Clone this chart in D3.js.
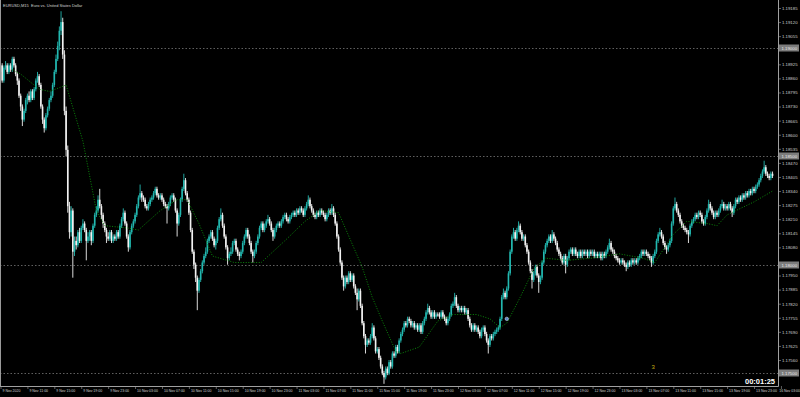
<!DOCTYPE html>
<html>
<head>
<meta charset="utf-8">
<script src="https://cdn.jsdelivr.net/npm/d3@7"></script>
<style>
  html, body { margin: 0; padding: 0; background: #000; overflow: hidden; }
  svg { display: block; }
  text { font-family: "Liberation Sans", Arial, sans-serif; }
</style>
</head>
<body>
<div id="chart"></div>
<script>
// EURUSD M15 candles, 9 Nov 07:00 -> 16 Nov early
var opens = [
1.1889,1.1892,1.1885,1.1891,1.1892,1.1889,1.1892,1.1890,1.1895,1.1892,1.1888,1.1885,1.1878,1.1873,1.1867,1.1871,
1.1876,1.1878,1.1876,1.1880,1.1877,1.1881,1.1885,1.1887,1.1883,1.1873,1.1867,1.1863,1.1869,1.1872,1.1876,1.1878,
1.1883,1.1889,1.1895,1.1901,1.1908,1.1912,1.1897,1.1871,1.1853,1.1827,1.1815,1.1825,1.1806,1.1811,1.1809,1.1815,
1.1811,1.1817,1.1819,1.1816,1.1811,1.1813,1.1815,1.1811,1.1818,1.1823,1.1825,1.1830,1.1827,1.1823,1.1819,1.1816,
1.1813,1.1812,1.1815,1.1811,1.1813,1.1812,1.1815,1.1813,1.1818,1.1821,1.1824,1.1819,1.1813,1.1808,1.1815,1.1818,
1.1820,1.1823,1.1827,1.1831,1.1833,1.1831,1.1830,1.1827,1.1826,1.1828,1.1830,1.1831,1.1833,1.1835,1.1832,1.1831,
1.1832,1.1830,1.1828,1.1827,1.1826,1.1828,1.1831,1.1832,1.1830,1.1825,1.1819,1.1823,1.1830,1.1835,1.1839,1.1833,
1.1830,1.1824,1.1816,1.1806,1.1800,1.1794,1.1788,1.1793,1.1797,1.1801,1.1804,1.1806,1.1811,1.1813,1.1815,1.1812,
1.1809,1.1811,1.1817,1.1821,1.1823,1.1818,1.1813,1.1808,1.1803,1.1805,1.1806,1.1810,1.1811,1.1807,1.1805,1.1804,
1.1806,1.1810,1.1813,1.1816,1.1813,1.1810,1.1806,1.1804,1.1806,1.1810,1.1813,1.1817,1.1819,1.1816,1.1818,1.1820,
1.1821,1.1819,1.1816,1.1813,1.1816,1.1818,1.1819,1.1818,1.1820,1.1822,1.1823,1.1821,1.1820,1.1822,1.1823,1.1824,
1.1823,1.1825,1.1824,1.1826,1.1825,1.1823,1.1826,1.1828,1.1830,1.1827,1.1825,1.1823,1.1822,1.1824,1.1823,1.1825,
1.1824,1.1823,1.1821,1.1823,1.1825,1.1824,1.1826,1.1823,1.1819,1.1813,1.1807,1.1801,1.1794,1.1790,1.1794,1.1792,
1.1796,1.1793,1.1795,1.1790,1.1787,1.1784,1.1788,1.1781,1.1773,1.1767,1.1763,1.1765,1.1764,1.1767,1.1771,1.1766,
1.1760,1.1761,1.1757,1.1753,1.1750,1.1748,1.1752,1.1750,1.1755,1.1753,1.1759,1.1758,1.1762,1.1760,1.1765,1.1768,
1.1770,1.1773,1.1772,1.1775,1.1774,1.1772,1.1773,1.1771,1.1772,1.1770,1.1772,1.1769,1.1773,1.1775,1.1778,1.1780,
1.1778,1.1776,1.1778,1.1776,1.1777,1.1777,1.1776,1.1778,1.1776,1.1775,1.1773,1.1775,1.1777,1.1781,1.1782,1.1785,
1.1781,1.1779,1.1780,1.1779,1.1780,1.1778,1.1779,1.1775,1.1772,1.1770,1.1772,1.1770,1.1771,1.1769,1.1767,1.1770,
1.1771,1.1768,1.1765,1.1763,1.1767,1.1766,1.1768,1.1769,1.1770,1.1771,1.1775,1.1785,1.1787,1.1785,1.1789,1.1796,
1.1806,1.1813,1.1815,1.1812,1.1816,1.1818,1.1815,1.1812,1.1813,1.1809,1.1806,1.1801,1.1797,1.1793,1.1796,1.1799,
1.1795,1.1792,1.1794,1.1801,1.1806,1.1809,1.1811,1.1813,1.1811,1.1814,1.1812,1.1810,1.1807,1.1805,1.1803,1.1801,
1.1804,1.1800,1.1803,1.1806,1.1807,1.1805,1.1807,1.1805,1.1804,1.1806,1.1804,1.1806,1.1805,1.1806,1.1804,1.1806,
1.1805,1.1806,1.1804,1.1805,1.1804,1.1805,1.1803,1.1805,1.1804,1.1806,1.1808,1.1810,1.1807,1.1806,1.1804,1.1803,
1.1802,1.1801,1.1802,1.1801,1.1800,1.1799,1.1801,1.1800,1.1802,1.1801,1.1802,1.1801,1.1803,1.1804,1.1806,1.1805,
1.1806,1.1805,1.1804,1.1803,1.1801,1.1804,1.1806,1.1811,1.1814,1.1815,1.1813,1.1810,1.1808,1.1807,1.1809,1.1811,
1.1819,1.1826,1.1828,1.1825,1.1823,1.1820,1.1818,1.1817,1.1816,1.1815,1.1814,1.1818,1.1820,1.1821,1.1823,1.1822,
1.1824,1.1823,1.1820,1.1819,1.1822,1.1825,1.1828,1.1826,1.1824,1.1822,1.1824,1.1823,1.1825,1.1827,1.1828,1.1826,
1.1827,1.1826,1.1828,1.1826,1.1824,1.1827,1.1830,1.1829,1.1831,1.1830,1.1832,1.1831,1.1833,1.1832,1.1834,1.1833,
1.1835,1.1834,1.1836,1.1837,1.1839,1.1841,1.1843,1.1845,1.1842,1.1841,1.1840,1.1842];

var highs = [
1.1893,1.1893,1.1892,1.1894,1.1893,1.1893,1.1893,1.1896,1.1896,1.1893,1.1889,1.1886,1.1879,1.1874,1.1872,1.1877,
1.1879,1.1880,1.1881,1.1881,1.1882,1.1886,1.1889,1.1888,1.1884,1.1874,1.1868,1.1870,1.1873,1.1877,1.1880,1.1884,
1.1890,1.1897,1.1903,1.1910,1.1917,1.1914,1.1899,1.1873,1.1855,1.1829,1.1827,1.1826,1.1813,1.1813,1.1816,1.1817,
1.1818,1.1821,1.1820,1.1817,1.1815,1.1816,1.1816,1.1819,1.1824,1.1827,1.1832,1.1835,1.1828,1.1824,1.1820,1.1817,
1.1815,1.1816,1.1816,1.1814,1.1814,1.1816,1.1816,1.1819,1.1822,1.1826,1.1825,1.1820,1.1814,1.1816,1.1819,1.1821,
1.1824,1.1828,1.1832,1.1837,1.1834,1.1832,1.1831,1.1828,1.1829,1.1831,1.1832,1.1834,1.1836,1.1836,1.1833,1.1833,
1.1833,1.1831,1.1829,1.1828,1.1829,1.1832,1.1833,1.1833,1.1831,1.1826,1.1824,1.1831,1.1836,1.1842,1.1840,1.1834,
1.1831,1.1825,1.1817,1.1807,1.1801,1.1795,1.1794,1.1798,1.1802,1.1805,1.1808,1.1812,1.1814,1.1816,1.1816,1.1813,
1.1812,1.1818,1.1822,1.1826,1.1824,1.1819,1.1814,1.1809,1.1806,1.1808,1.1811,1.1812,1.1812,1.1808,1.1806,1.1807,
1.1811,1.1814,1.1817,1.1817,1.1814,1.1811,1.1807,1.1807,1.1811,1.1814,1.1818,1.1820,1.1820,1.1819,1.1821,1.1823,
1.1822,1.1820,1.1817,1.1817,1.1819,1.1820,1.1820,1.1821,1.1823,1.1824,1.1824,1.1822,1.1823,1.1824,1.1825,1.1825,
1.1826,1.1826,1.1827,1.1827,1.1826,1.1827,1.1829,1.1832,1.1831,1.1828,1.1826,1.1824,1.1825,1.1825,1.1826,1.1826,
1.1825,1.1824,1.1824,1.1826,1.1826,1.1828,1.1827,1.1824,1.1820,1.1814,1.1808,1.1802,1.1795,1.1795,1.1795,1.1797,
1.1797,1.1796,1.1796,1.1791,1.1789,1.1789,1.1789,1.1782,1.1774,1.1768,1.1766,1.1766,1.1768,1.1773,1.1772,1.1767,
1.1762,1.1762,1.1758,1.1754,1.1751,1.1753,1.1753,1.1756,1.1756,1.1760,1.1760,1.1763,1.1763,1.1766,1.1769,1.1771,
1.1774,1.1774,1.1776,1.1776,1.1775,1.1774,1.1774,1.1773,1.1773,1.1773,1.1773,1.1774,1.1776,1.1779,1.1782,1.1781,
1.1779,1.1779,1.1779,1.1778,1.1778,1.1778,1.1779,1.1779,1.1777,1.1776,1.1776,1.1778,1.1782,1.1783,1.1787,1.1786,
1.1782,1.1781,1.1781,1.1781,1.1781,1.1780,1.1780,1.1776,1.1773,1.1773,1.1773,1.1772,1.1772,1.1770,1.1771,1.1772,
1.1772,1.1769,1.1766,1.1768,1.1768,1.1769,1.1770,1.1771,1.1772,1.1776,1.1786,1.1789,1.1788,1.1790,1.1797,1.1807,
1.1814,1.1817,1.1816,1.1817,1.1820,1.1819,1.1816,1.1814,1.1814,1.1810,1.1807,1.1802,1.1798,1.1797,1.1800,1.1800,
1.1796,1.1795,1.1802,1.1807,1.1810,1.1812,1.1814,1.1814,1.1816,1.1815,1.1813,1.1811,1.1808,1.1806,1.1804,1.1805,
1.1805,1.1804,1.1807,1.1808,1.1808,1.1808,1.1808,1.1806,1.1807,1.1807,1.1807,1.1807,1.1807,1.1807,1.1807,1.1807,
1.1807,1.1807,1.1806,1.1806,1.1806,1.1806,1.1806,1.1806,1.1807,1.1809,1.1812,1.1811,1.1808,1.1807,1.1805,1.1804,
1.1803,1.1803,1.1803,1.1802,1.1801,1.1802,1.1802,1.1803,1.1803,1.1803,1.1803,1.1804,1.1805,1.1807,1.1807,1.1807,
1.1807,1.1806,1.1805,1.1804,1.1805,1.1807,1.1812,1.1815,1.1817,1.1816,1.1814,1.1811,1.1809,1.1810,1.1812,1.1820,
1.1827,1.1831,1.1829,1.1826,1.1824,1.1821,1.1819,1.1818,1.1817,1.1816,1.1819,1.1821,1.1822,1.1824,1.1824,1.1825,
1.1825,1.1824,1.1821,1.1823,1.1826,1.1830,1.1829,1.1827,1.1825,1.1825,1.1825,1.1826,1.1828,1.1830,1.1829,1.1828,
1.1828,1.1829,1.1829,1.1827,1.1828,1.1831,1.1831,1.1832,1.1832,1.1833,1.1833,1.1834,1.1834,1.1835,1.1835,1.1836,
1.1836,1.1837,1.1838,1.1840,1.1842,1.1844,1.1848,1.1846,1.1843,1.1842,1.1843,1.1843];

var lows = [
1.1888,1.1884,1.1884,1.1890,1.1888,1.1888,1.1889,1.1889,1.1891,1.1887,1.1883,1.1877,1.1871,1.1864,1.1866,1.1870,
1.1874,1.1875,1.1875,1.1876,1.1876,1.1880,1.1884,1.1882,1.1872,1.1865,1.1861,1.1862,1.1868,1.1871,1.1875,1.1877,
1.1882,1.1888,1.1894,1.1899,1.1906,1.1895,1.1869,1.1850,1.1824,1.1812,1.1813,1.1794,1.1804,1.1807,1.1808,1.1810,
1.1810,1.1816,1.1815,1.1802,1.1810,1.1811,1.1809,1.1810,1.1817,1.1822,1.1824,1.1826,1.1821,1.1817,1.1815,1.1810,
1.1811,1.1811,1.1810,1.1810,1.1811,1.1811,1.1812,1.1812,1.1817,1.1820,1.1818,1.1812,1.1806,1.1807,1.1814,1.1817,
1.1819,1.1822,1.1826,1.1830,1.1829,1.1829,1.1826,1.1825,1.1825,1.1827,1.1829,1.1830,1.1832,1.1831,1.1830,1.1830,
1.1829,1.1827,1.1826,1.1819,1.1825,1.1827,1.1830,1.1829,1.1824,1.1813,1.1818,1.1822,1.1829,1.1834,1.1832,1.1829,
1.1823,1.1815,1.1805,1.1798,1.1792,1.1779,1.1787,1.1792,1.1796,1.1800,1.1803,1.1805,1.1810,1.1812,1.1811,1.1808,
1.1807,1.1810,1.1816,1.1820,1.1817,1.1812,1.1807,1.1800,1.1802,1.1804,1.1805,1.1809,1.1806,1.1804,1.1802,1.1803,
1.1805,1.1809,1.1812,1.1812,1.1809,1.1805,1.1801,1.1803,1.1805,1.1809,1.1812,1.1816,1.1815,1.1815,1.1817,1.1819,
1.1818,1.1815,1.1811,1.1812,1.1815,1.1817,1.1817,1.1817,1.1819,1.1821,1.1820,1.1819,1.1819,1.1821,1.1822,1.1822,
1.1822,1.1823,1.1823,1.1824,1.1822,1.1822,1.1825,1.1827,1.1826,1.1824,1.1822,1.1821,1.1821,1.1822,1.1822,1.1823,
1.1822,1.1820,1.1820,1.1822,1.1823,1.1823,1.1822,1.1818,1.1812,1.1806,1.1800,1.1793,1.1788,1.1789,1.1791,1.1791,
1.1792,1.1792,1.1789,1.1786,1.1779,1.1783,1.1780,1.1772,1.1766,1.1759,1.1762,1.1763,1.1763,1.1766,1.1765,1.1759,
1.1759,1.1756,1.1752,1.1749,1.1745,1.1747,1.1749,1.1749,1.1752,1.1752,1.1757,1.1757,1.1759,1.1759,1.1764,1.1767,
1.1769,1.1771,1.1771,1.1773,1.1771,1.1771,1.1770,1.1770,1.1769,1.1769,1.1768,1.1768,1.1772,1.1774,1.1777,1.1777,
1.1775,1.1775,1.1775,1.1775,1.1776,1.1775,1.1775,1.1775,1.1774,1.1772,1.1772,1.1774,1.1776,1.1780,1.1781,1.1780,
1.1778,1.1778,1.1778,1.1778,1.1777,1.1777,1.1774,1.1771,1.1769,1.1769,1.1769,1.1769,1.1768,1.1766,1.1766,1.1769,
1.1767,1.1764,1.1759,1.1762,1.1765,1.1765,1.1767,1.1768,1.1769,1.1770,1.1774,1.1784,1.1784,1.1784,1.1788,1.1795,
1.1805,1.1812,1.1811,1.1811,1.1815,1.1814,1.1811,1.1811,1.1808,1.1805,1.1800,1.1796,1.1789,1.1792,1.1795,1.1794,
1.1787,1.1791,1.1793,1.1800,1.1805,1.1808,1.1810,1.1810,1.1810,1.1811,1.1809,1.1806,1.1804,1.1802,1.1800,1.1800,
1.1796,1.1799,1.1802,1.1805,1.1804,1.1804,1.1804,1.1803,1.1803,1.1803,1.1803,1.1804,1.1804,1.1803,1.1803,1.1804,
1.1804,1.1803,1.1803,1.1803,1.1803,1.1802,1.1802,1.1803,1.1803,1.1805,1.1807,1.1806,1.1805,1.1803,1.1802,1.1801,
1.1800,1.1800,1.1800,1.1799,1.1797,1.1798,1.1799,1.1799,1.1800,1.1800,1.1800,1.1800,1.1802,1.1803,1.1804,1.1804,
1.1804,1.1803,1.1802,1.1799,1.1800,1.1803,1.1805,1.1810,1.1813,1.1812,1.1809,1.1807,1.1805,1.1806,1.1808,1.1810,
1.1818,1.1825,1.1824,1.1822,1.1819,1.1817,1.1816,1.1815,1.1814,1.1810,1.1813,1.1817,1.1819,1.1820,1.1821,1.1821,
1.1822,1.1819,1.1818,1.1818,1.1821,1.1824,1.1825,1.1823,1.1821,1.1821,1.1822,1.1822,1.1824,1.1826,1.1825,1.1825,
1.1825,1.1825,1.1825,1.1822,1.1823,1.1826,1.1828,1.1828,1.1829,1.1829,1.1830,1.1830,1.1831,1.1831,1.1832,1.1832,
1.1833,1.1833,1.1835,1.1836,1.1838,1.1840,1.1842,1.1841,1.1840,1.1839,1.1839,1.1840];

var closes = [
1.1892,1.1885,1.1891,1.1892,1.1889,1.1892,1.1890,1.1895,1.1892,1.1888,1.1885,1.1878,1.1873,1.1867,1.1871,1.1876,
1.1878,1.1876,1.1880,1.1877,1.1881,1.1885,1.1887,1.1883,1.1873,1.1867,1.1863,1.1869,1.1872,1.1876,1.1878,1.1883,
1.1889,1.1895,1.1901,1.1908,1.1912,1.1897,1.1871,1.1853,1.1827,1.1815,1.1825,1.1806,1.1811,1.1809,1.1815,1.1811,
1.1817,1.1819,1.1816,1.1811,1.1813,1.1815,1.1811,1.1818,1.1823,1.1825,1.1830,1.1827,1.1823,1.1819,1.1816,1.1813,
1.1812,1.1815,1.1811,1.1813,1.1812,1.1815,1.1813,1.1818,1.1821,1.1824,1.1819,1.1813,1.1808,1.1815,1.1818,1.1820,
1.1823,1.1827,1.1831,1.1833,1.1831,1.1830,1.1827,1.1826,1.1828,1.1830,1.1831,1.1833,1.1835,1.1832,1.1831,1.1832,
1.1830,1.1828,1.1827,1.1826,1.1828,1.1831,1.1832,1.1830,1.1825,1.1819,1.1823,1.1830,1.1835,1.1839,1.1833,1.1830,
1.1824,1.1816,1.1806,1.1800,1.1794,1.1788,1.1793,1.1797,1.1801,1.1804,1.1806,1.1811,1.1813,1.1815,1.1812,1.1809,
1.1811,1.1817,1.1821,1.1823,1.1818,1.1813,1.1808,1.1803,1.1805,1.1806,1.1810,1.1811,1.1807,1.1805,1.1804,1.1806,
1.1810,1.1813,1.1816,1.1813,1.1810,1.1806,1.1804,1.1806,1.1810,1.1813,1.1817,1.1819,1.1816,1.1818,1.1820,1.1821,
1.1819,1.1816,1.1813,1.1816,1.1818,1.1819,1.1818,1.1820,1.1822,1.1823,1.1821,1.1820,1.1822,1.1823,1.1824,1.1823,
1.1825,1.1824,1.1826,1.1825,1.1823,1.1826,1.1828,1.1830,1.1827,1.1825,1.1823,1.1822,1.1824,1.1823,1.1825,1.1824,
1.1823,1.1821,1.1823,1.1825,1.1824,1.1826,1.1823,1.1819,1.1813,1.1807,1.1801,1.1794,1.1790,1.1794,1.1792,1.1796,
1.1793,1.1795,1.1790,1.1787,1.1784,1.1788,1.1781,1.1773,1.1767,1.1763,1.1765,1.1764,1.1767,1.1771,1.1766,1.1760,
1.1761,1.1757,1.1753,1.1750,1.1748,1.1752,1.1750,1.1755,1.1753,1.1759,1.1758,1.1762,1.1760,1.1765,1.1768,1.1770,
1.1773,1.1772,1.1775,1.1774,1.1772,1.1773,1.1771,1.1772,1.1770,1.1772,1.1769,1.1773,1.1775,1.1778,1.1780,1.1778,
1.1776,1.1778,1.1776,1.1777,1.1777,1.1776,1.1778,1.1776,1.1775,1.1773,1.1775,1.1777,1.1781,1.1782,1.1785,1.1781,
1.1779,1.1780,1.1779,1.1780,1.1778,1.1779,1.1775,1.1772,1.1770,1.1772,1.1770,1.1771,1.1769,1.1767,1.1770,1.1771,
1.1768,1.1765,1.1763,1.1767,1.1766,1.1768,1.1769,1.1770,1.1771,1.1775,1.1785,1.1787,1.1785,1.1789,1.1796,1.1806,
1.1813,1.1815,1.1812,1.1816,1.1818,1.1815,1.1812,1.1813,1.1809,1.1806,1.1801,1.1797,1.1793,1.1796,1.1799,1.1795,
1.1792,1.1794,1.1801,1.1806,1.1809,1.1811,1.1813,1.1811,1.1814,1.1812,1.1810,1.1807,1.1805,1.1803,1.1801,1.1804,
1.1800,1.1803,1.1806,1.1807,1.1805,1.1807,1.1805,1.1804,1.1806,1.1804,1.1806,1.1805,1.1806,1.1804,1.1806,1.1805,
1.1806,1.1804,1.1805,1.1804,1.1805,1.1803,1.1805,1.1804,1.1806,1.1808,1.1810,1.1807,1.1806,1.1804,1.1803,1.1802,
1.1801,1.1802,1.1801,1.1800,1.1799,1.1801,1.1800,1.1802,1.1801,1.1802,1.1801,1.1803,1.1804,1.1806,1.1805,1.1806,
1.1805,1.1804,1.1803,1.1801,1.1804,1.1806,1.1811,1.1814,1.1815,1.1813,1.1810,1.1808,1.1807,1.1809,1.1811,1.1819,
1.1826,1.1828,1.1825,1.1823,1.1820,1.1818,1.1817,1.1816,1.1815,1.1814,1.1818,1.1820,1.1821,1.1823,1.1822,1.1824,
1.1823,1.1820,1.1819,1.1822,1.1825,1.1828,1.1826,1.1824,1.1822,1.1824,1.1823,1.1825,1.1827,1.1828,1.1826,1.1827,
1.1826,1.1828,1.1826,1.1824,1.1827,1.1830,1.1829,1.1831,1.1830,1.1832,1.1831,1.1833,1.1832,1.1834,1.1833,1.1835,
1.1834,1.1836,1.1837,1.1839,1.1841,1.1843,1.1845,1.1842,1.1841,1.1840,1.1842,1.1841];

// dotted green moving average, read at its visible corners
var maBars = [7,12,23,29,36,39,49,57,62,75,82,95,105,111,118,126,139,155,169,181,190,201,215,221,227,235,238,249,260,269,283,291,297,301,309,317,324,337,351,368,382,389,400,408,420,426,432,448,459];
var maValues = [1.1890,1.1888,1.1881,1.1880,1.1882,1.1883,1.1857,1.1825,1.1818,1.1817,1.1816,1.1825,1.1830,1.1830,1.1819,1.1804,1.1801,1.1801,1.1811,1.1820,1.1825,1.1824,1.1799,1.1785,1.1774,1.1760,1.1759,1.1762,1.1774,1.1777,1.1777,1.1775,1.1771,1.1773,1.1785,1.1798,1.1803,1.1802,1.1803,1.1805,1.1803,1.1801,1.1814,1.1820,1.1819,1.1818,1.1823,1.1829,1.1834];

// axes
var priceTicks = [1.19185,1.19120,1.19055,1.18925,1.18860,1.18795,1.18730,1.18665,1.18600,1.18535,1.18470,1.18405,1.18340,1.18275,1.18210,1.18145,1.18080,1.17950,1.17885,1.17820,1.17755,1.17690,1.17625,1.17560];
var hLines = [1.19000, 1.18500, 1.18000, 1.17500];
var timeLabels = ["9 Nov 2020","9 Nov 11:00","9 Nov 15:00","9 Nov 19:00","9 Nov 23:00","10 Nov 03:00","10 Nov 07:00","10 Nov 11:00","10 Nov 15:00","10 Nov 19:00","10 Nov 23:00","11 Nov 03:00","11 Nov 07:00","11 Nov 11:00","11 Nov 15:00","11 Nov 19:00","11 Nov 23:00","12 Nov 03:00","12 Nov 07:00","12 Nov 11:00","12 Nov 15:00","12 Nov 19:00","12 Nov 23:00","13 Nov 03:00","13 Nov 07:00","13 Nov 11:00","13 Nov 15:00","13 Nov 19:00","13 Nov 23:00","16 Nov 03:00"];
var timeLabelBars = [0,16,32,48,64,80,96,112,128,144,160,176,192,208,224,240,256,272,288,304,320,336,352,368,384,400,416,432,448,464];

// objects on the chart
var markerBar = 301, markerPrice = 1.1775;
var noteBar = 387, notePrice = 1.1752, noteText = "3";
var timerText = "00:01:25";
var titleText = "EURUSD,M15  Euro vs. United States Dollar";

var width = 800, height = 397;
var plotRight = 778, plotBottom = 386;
var bull = "#22b8b0", bear = "#f2f2f2", axisColor = "#a0a0a0", labelColor = "#d0d0d0";

var svg = d3.select("#chart").append("svg")
    .attr("width", width)
    .attr("height", height)
    .style("background", "#000");

svg.append("defs").append("clipPath").attr("id", "plot-clip")
  .append("rect").attr("x", 0).attr("y", 0).attr("width", plotRight).attr("height", plotBottom);

var x = d3.scaleLinear().domain([0, 459]).range([0.5, 0.5 + 459 * 1.682]);
var y = d3.scaleLinear().domain([1.17560, 1.19185]).range([360, 8]);

var plot = svg.append("g").attr("clip-path", "url(#plot-clip)");

// horizontal line objects
plot.selectAll("line.hline")
  .data(hLines)
  .enter().append("line")
    .attr("class", "hline")
    .attr("x1", 0).attr("x2", plotRight)
    .attr("y1", function(d){ return Math.round(y(d)) + 0.5; })
    .attr("y2", function(d){ return Math.round(y(d)) + 0.5; })
    .attr("stroke", "#8a8a8a")
    .attr("stroke-width", 0.7)
    .attr("stroke-dasharray", "1.5,2");

// candles
var bars = closes.map(function(c, i){ return {i: i, o: opens[i], h: highs[i], l: lows[i], c: c}; });
var candle = plot.append("g").selectAll("g")
  .data(bars)
  .enter().append("g");

candle.append("line")
    .attr("x1", function(d){ return x(d.i); })
    .attr("x2", function(d){ return x(d.i); })
    .attr("y1", function(d){ return y(d.h); })
    .attr("y2", function(d){ return y(d.l); })
    .attr("stroke", function(d){ return d.c > d.o ? bull : bear; })
    .attr("stroke-width", 0.9);

candle.append("rect")
    .attr("x", function(d){ return x(d.i) - 0.8; })
    .attr("width", 1.6)
    .attr("y", function(d){ return y(Math.max(d.o, d.c)); })
    .attr("height", function(d){ return Math.max(0.9, Math.abs(y(d.o) - y(d.c))); })
    .attr("fill", function(d){ return d.c > d.o ? bull : bear; });

// moving average
var maLine = d3.line()
    .x(function(d){ return x(d[0]); })
    .y(function(d){ return y(d[1]); });
plot.append("path")
    .datum(maBars.map(function(b, i){ return [b, maValues[i]]; }))
    .attr("d", maLine)
    .attr("fill", "none")
    .attr("stroke", "#0c960c")
    .attr("stroke-width", 0.9)
    .attr("stroke-dasharray", "1,1.6");

// arrow object and text label
plot.append("circle")
    .attr("cx", x(markerBar)).attr("cy", y(markerPrice)).attr("r", 1.7)
    .attr("fill", "#5f86c8").attr("stroke", "#d4e2ff").attr("stroke-width", 0.6);

plot.append("text")
    .attr("x", x(noteBar)).attr("y", y(notePrice))
    .attr("fill", "#c2ac10")
    .style("font-size", "6px")
    .text(noteText);

// price axis
var yAxis = d3.axisRight(y)
    .tickValues(priceTicks)
    .tickSize(3)
    .tickSizeOuter(0)
    .tickPadding(1)
    .tickFormat(d3.format(".5f"));
var yg = svg.append("g").attr("transform", "translate(" + plotRight + ",0)").call(yAxis);
yg.select(".domain").remove();
yg.selectAll("line").attr("stroke", axisColor).attr("stroke-width", 0.6);
yg.selectAll("text").attr("fill", labelColor).style("font-size", "4.3px").style("font-family", "'Liberation Sans', Arial, sans-serif");

// labels of the horizontal lines on the price scale
var hl = svg.append("g").selectAll("g")
  .data(hLines)
  .enter().append("g")
    .attr("transform", function(d){ return "translate(" + (plotRight + 1) + "," + Math.round(y(d)) + ")"; });
hl.append("rect")
    .attr("x", 0).attr("y", -3.5).attr("width", 20).attr("height", 7)
    .attr("fill", "#7c7c7c");
hl.append("text")
    .attr("x", 2.5).attr("y", 1.6)
    .attr("fill", "#ececec")
    .style("font-size", "4.3px")
    .text(function(d){ return d3.format(".5f")(d); });

// time axis
var xAxis = d3.axisBottom(x)
    .tickValues(timeLabelBars)
    .tickSize(3)
    .tickSizeOuter(0)
    .tickFormat(function(d, i){ return timeLabels[i]; });
var xg = svg.append("g").attr("transform", "translate(0," + plotBottom + ")").call(xAxis);
xg.select(".domain").remove();
xg.selectAll("line").attr("stroke", axisColor).attr("stroke-width", 0.6);
xg.selectAll("text")
    .attr("text-anchor", "start")
    .attr("x", 1.5)
    .attr("y", 3.6)
    .attr("dy", "0.71em")
    .attr("fill", labelColor)
    .style("font-size", "3.5px")
    .style("font-family", "'Liberation Sans', Arial, sans-serif");
// keep the last time label inside the picture
xg.selectAll(".tick").each(function(d){
  var t = d3.select(this).select("text");
  var right = x(d) + 1.5 + t.node().getComputedTextLength();
  if (right > width - 0.5) t.attr("x", 1.5 - (right - width + 0.5));
});

// frame lines
svg.append("line")
    .attr("x1", plotRight + 0.5).attr("x2", plotRight + 0.5)
    .attr("y1", 0).attr("y2", plotBottom + 0.5)
    .attr("stroke", axisColor).attr("stroke-width", 1);
svg.append("line")
    .attr("x1", 0).attr("x2", plotRight + 0.5)
    .attr("y1", plotBottom + 0.5).attr("y2", plotBottom + 0.5)
    .attr("stroke", axisColor).attr("stroke-width", 1);
svg.append("line")
    .attr("x1", 0.5).attr("x2", 0.5)
    .attr("y1", 0).attr("y2", plotBottom)
    .attr("stroke", "#9a9a9a").attr("stroke-width", 1);

// title and bar timer
svg.append("text")
    .attr("x", 3).attr("y", 7)
    .attr("fill", "#d4d4d4")
    .style("font-size", "4px")
    .style("white-space", "pre")
    .text(titleText);

svg.append("text")
    .attr("x", 775).attr("y", 384)
    .attr("text-anchor", "end")
    .attr("fill", "#ffffff")
    .style("font-size", "7.5px")
    .style("font-weight", "bold")
    .text(timerText);
</script>
</body>
</html>
